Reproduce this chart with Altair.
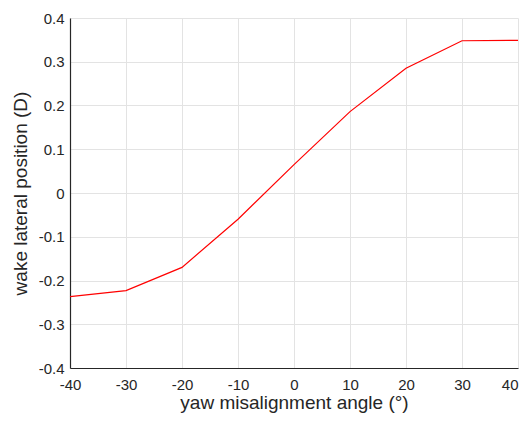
import altair as alt
import pandas as pd

yaw = [-40, -30, -20, -10, 0, 10, 20, 30, 40]
lateral = [-0.237, -0.223, -0.170, -0.060, 0.065, 0.186, 0.285, 0.348, 0.349]

df = pd.DataFrame({"yaw": yaw, "lat": lateral})

font = "Liberation Sans"
chart = alt.Chart(df).mark_line(color="#ff0000", strokeWidth=1.2).encode(
    x=alt.X("yaw:Q", scale=alt.Scale(domain=[-40, 40], nice=False),
            axis=alt.Axis(title="yaw misalignment angle (°)", values=list(range(-40, 41, 10)),
                          labelExpr="(datum.value < 0 ? '-' : '') + format(abs(datum.value), 'd')",
                          labelAlign={"condition": {"test": "datum.value >= 40", "value": "right"}, "value": "center"},
                          labelFlush=False, tickSize=0, labelPadding=9, titlePadding=1)),
    y=alt.Y("lat:Q", scale=alt.Scale(domain=[-0.4, 0.4], nice=False),
            axis=alt.Axis(title="wake lateral position (D)", values=[round(-0.4 + 0.1 * i, 1) for i in range(9)],
                          labelExpr="abs(datum.value) < 1e-9 ? '0' : (datum.value < 0 ? '-' : '') + format(abs(datum.value), '.1f')",
                          labelFlush=False, tickSize=0, labelPadding=6, titlePadding=8)),
).properties(
    width=448, height=350,
    autosize=alt.AutoSizeParams(type="none"),
    padding={"left": 62, "top": 10, "right": 1, "bottom": 46},
).configure_view(stroke=None).configure_axis(
    domainColor="#262626", domainWidth=1.2,
    gridColor="#e3e3e3", gridWidth=1,
    labelFont=font, labelFontSize=15, labelColor="#262626",
    titleFont=font, titleFontSize=19, titleFontWeight="normal", titleColor="#262626",
)

chart.save("out.html", embed_options={"renderer": "svg", "actions": False})
